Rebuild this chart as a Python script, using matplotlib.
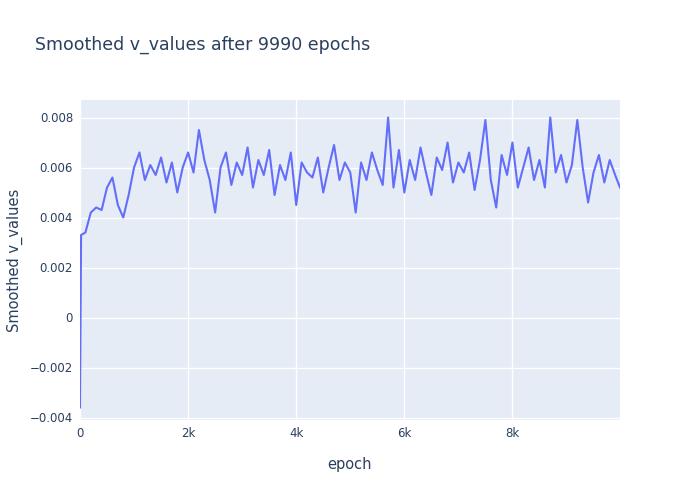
import numpy as np
import matplotlib.pyplot as plt
from matplotlib.ticker import FuncFormatter

start_epochs = [0, 20]
start_values = [-0.0036, 0.0033]
sampled = [
    0.0034, 0.0042, 0.0044, 0.0043, 0.0052, 0.0056, 0.0045, 0.0040, 0.0049, 0.0060,
    0.0066, 0.0055, 0.0061, 0.0057, 0.0064, 0.0054, 0.0062, 0.0050, 0.0060, 0.0066,
    0.0058, 0.0075, 0.0063, 0.0055, 0.0042, 0.0060, 0.0066, 0.0053, 0.0062, 0.0057,
    0.0068, 0.0052, 0.0063, 0.0057, 0.0067, 0.0049, 0.0061, 0.0055, 0.0066, 0.0045,
    0.0062, 0.0058, 0.0056, 0.0064, 0.0050, 0.0060, 0.0069, 0.0055, 0.0062, 0.0058,
    0.0042, 0.0062, 0.0055, 0.0066, 0.0059, 0.0053, 0.0080, 0.0052, 0.0067, 0.0050,
    0.0063, 0.0055, 0.0068, 0.0058, 0.0049, 0.0064, 0.0059, 0.0070, 0.0054, 0.0062,
    0.0058, 0.0066, 0.0051, 0.0063, 0.0079, 0.0055, 0.0044, 0.0065, 0.0057, 0.0070,
    0.0052, 0.0060, 0.0068, 0.0055, 0.0063, 0.0052, 0.0080, 0.0058, 0.0065, 0.0054,
    0.0061, 0.0079, 0.0060, 0.0046, 0.0058, 0.0065, 0.0054, 0.0063, 0.0057, 0.0052,
]
sampled_epochs = [100 * i for i in range(1, len(sampled) + 1)]
sampled_epochs[-1] = 9990

epochs = start_epochs + sampled_epochs
values = start_values + sampled

fig = plt.figure(figsize=(7, 5), dpi=100)
ax = fig.add_axes([80 / 700, 80 / 500, 540 / 700, 320 / 500])
ax.set_facecolor('#E5ECF6')
ax.plot(epochs, values, color='#636EFA', linewidth=1.5)
ax.set_xlim(0, 9990)
ax.set_ylim(-0.0041, 0.0087)
ax.set_xticks([0, 2000, 4000, 6000, 8000])
ax.xaxis.set_major_formatter(FuncFormatter(lambda v, p: '0' if v == 0 else f'{int(v/1000)}k'))
ax.set_yticks([-0.004, -0.002, 0, 0.002, 0.004, 0.006, 0.008])
ax.yaxis.set_major_formatter(FuncFormatter(lambda v, p: '0' if abs(v) < 1e-9 else f'{v:.3f}'.replace('-', '\u2212')))
ax.grid(color='white', linewidth=1)
ax.set_axisbelow(True)
for s in ax.spines.values():
    s.set_visible(False)
ax.tick_params(length=0, labelsize=8.5, colors='#2a3f5f', pad=5)
ax.set_xlabel('epoch', fontsize=10.5, color='#2a3f5f', labelpad=12)
ax.set_ylabel('Smoothed v_values', fontsize=10.5, color='#2a3f5f', labelpad=5)
fig.text(35 / 700, 1 - 45 / 500, 'Smoothed v_values after 9990 epochs', fontsize=12.5,
         color='#2a3f5f', va='center')
fig.savefig('out.png', dpi=100)
